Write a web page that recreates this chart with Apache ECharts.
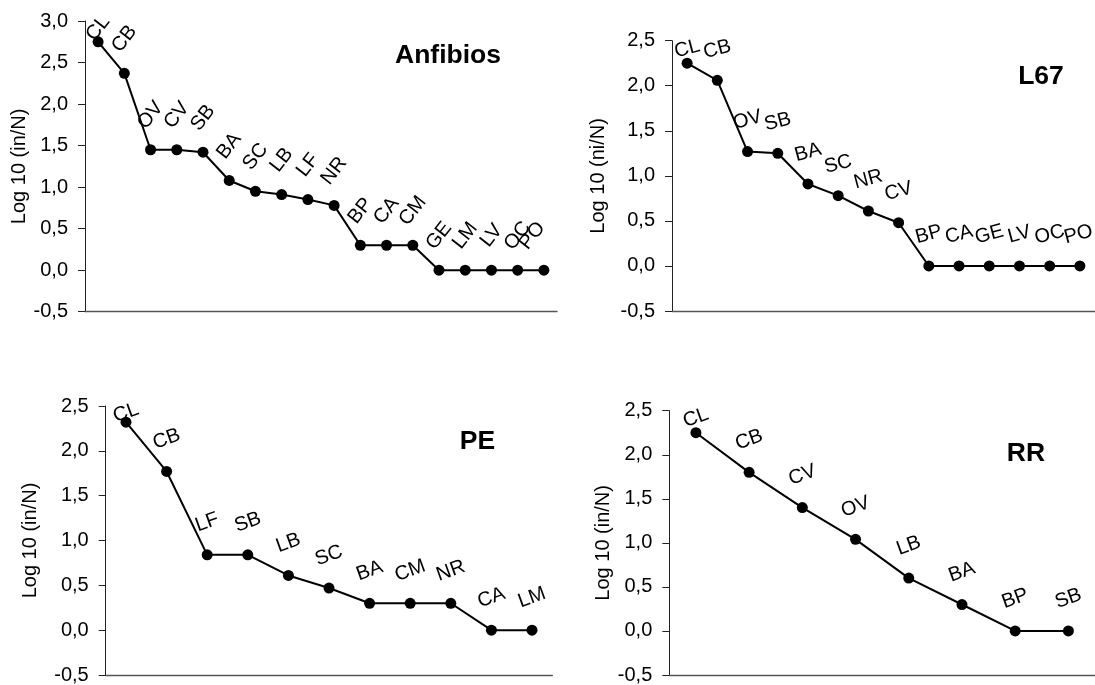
<!DOCTYPE html>
<html>
<head>
<meta charset="utf-8">
<script src="https://cdn.jsdelivr.net/npm/echarts@6/dist/echarts.min.js"></script>
<style>
  html, body { margin: 0; padding: 0; background: #fff; }
  #chart { width: 1095px; height: 685px; }
</style>
</head>
<body>
<div id="chart"></div>
<script>
// Log10 abundance rank curves per site

const anfibiosCats = ['CL','CB','OV','CV','SB','BA','SC','LB','LF','NR','BP','CA','CM','GE','LM','LV','OC','PO'];
const anfibiosVals = [2.75, 2.37, 1.45, 1.45, 1.42, 1.08, 0.95, 0.91, 0.85, 0.78, 0.30, 0.30, 0.30, 0, 0, 0, 0, 0];

const l67Cats = ['CL','CB','OV','SB','BA','SC','NR','CV','BP','CA','GE','LV','OC','PO'];
const l67Vals = [2.25, 2.06, 1.27, 1.25, 0.91, 0.78, 0.61, 0.48, 0, 0, 0, 0, 0, 0];

const peCats = ['CL','CB','LF','SB','LB','SC','BA','CM','NR','CA','LM'];
const peVals = [2.32, 1.77, 0.84, 0.84, 0.61, 0.47, 0.30, 0.30, 0.30, 0, 0];

const rrCats = ['CL','CB','CV','OV','LB','BA','BP','SB'];
const rrVals = [2.25, 1.80, 1.40, 1.04, 0.60, 0.30, 0, 0];

const yTicksAnfibios = [-0.5, 0, 0.5, 1.0, 1.5, 2.0, 2.5, 3.0];
const yTicksSites = [-0.5, 0, 0.5, 1.0, 1.5, 2.0, 2.5];

const panelTitles = ['Anfibios', 'L67', 'PE', 'RR'];
const yNames = ['Log 10 (in/N)', 'Log 10 (ni/N)', 'Log 10 (in/N)', 'Log 10 (in/N)'];

const FONT = '"Liberation Sans", Arial, sans-serif';

const panels = [
  { cats: anfibiosCats, vals: anfibiosVals, ticks: yTicksAnfibios,
    grid: { left: 85, top: 21, width: 472, height: 290.7 },
    box: { top: 12, right: 549 },
    nameGap: 55, labelRotate: 52, labelDist: 29, title: [448, 56] },
  { cats: l67Cats, vals: l67Vals, ticks: yTicksSites,
    grid: { left: 672, top: 40.7, width: 431, height: 270.3 },
    box: { top: 36, right: 1095 },
    nameGap: 64, labelRotate: 15, labelDist: 26, title: [1041, 77] },
  { cats: peCats, vals: peVals, ticks: yTicksSites,
    grid: { left: 105.7, top: 406, width: 446.6, height: 269 },
    box: { top: 399, right: 1095 },
    nameGap: 65, labelRotate: 20, labelDist: 27, title: [477.5, 442] },
  { cats: rrCats, vals: rrVals, ticks: yTicksSites,
    grid: { left: 669.3, top: 410.7, width: 434.3, height: 264.3 },
    box: { top: 404, right: 1095 },
    nameGap: 47, labelRotate: 20, labelDist: 27, title: [1026, 454] }
];

const fmt = v => v.toFixed(1).replace('.', ',');

const option = {
  animation: false,
  backgroundColor: '#fff',
  textStyle: { fontFamily: FONT },
  grid: panels.map(p => Object.assign({ containLabel: false }, p.grid)),
  xAxis: panels.map((p, i) => ({
    type: 'category',
    gridIndex: i,
    data: p.cats,
    boundaryGap: true,
    axisLine: { show: true, onZero: false, lineStyle: { color: '#555', width: 1.3 } },
    axisTick: { show: false },
    axisLabel: { show: false },
    splitLine: { show: false }
  })),
  yAxis: panels.map((p, i) => ({
    type: 'value',
    gridIndex: i,
    min: p.ticks[0],
    max: p.ticks[p.ticks.length - 1],
    interval: 0.5,
    name: yNames[i],
    nameLocation: 'middle',
    nameGap: p.nameGap,
    nameTextStyle: { fontFamily: FONT, fontSize: 20, color: '#000' },
    axisLine: { show: true, lineStyle: { color: '#222', width: 1 } },
    axisTick: { show: true, inside: false, length: 7, lineStyle: { color: '#222', width: 1 } },
    axisLabel: { formatter: fmt, fontFamily: FONT, fontSize: 20, color: '#000', margin: 17 },
    splitLine: { show: false }
  })),
  series: panels.map((p, i) => ({
    type: 'line',
    name: panelTitles[i],
    xAxisIndex: i,
    yAxisIndex: i,
    data: p.vals,
    symbol: 'circle',
    symbolSize: 11,
    clip: false,
    lineStyle: { color: '#000', width: 2 },
    itemStyle: { color: '#000' },
    label: {
      show: true,
      position: 'top',
      distance: p.labelDist,
      rotate: p.labelRotate,
      align: 'center',
      verticalAlign: 'middle',
      fontFamily: FONT,
      fontSize: 20,
      color: '#000',
      formatter: params => p.cats[params.dataIndex]
    },
    // keep labels inside the chart box; the offset is given in the label's rotated frame
    labelLayout: params => {
      const r = params.labelRect;
      let sx = 0, sy = 0;
      if (r.y < p.box.top) sy = p.box.top - r.y;
      if (r.x + r.width > p.box.right) sx = p.box.right - (r.x + r.width);
      if (!sx && !sy) return {};
      const t = p.labelRotate * Math.PI / 180;
      return {
        dx: sx * Math.cos(t) - sy * Math.sin(t),
        dy: sx * Math.sin(t) + sy * Math.cos(t)
      };
    }
  })),
  graphic: panels.map((p, i) => ({
    type: 'text',
    x: p.title[0],
    y: p.title[1],
    style: {
      text: panelTitles[i],
      fontFamily: FONT,
      fontSize: 26.5,
      fontWeight: 'bold',
      fill: '#000',
      align: 'center',
      verticalAlign: 'middle'
    }
  }))
};

const chart = echarts.init(document.getElementById('chart'), null, { renderer: 'canvas' });
chart.setOption(option);
</script>
</body>
</html>
